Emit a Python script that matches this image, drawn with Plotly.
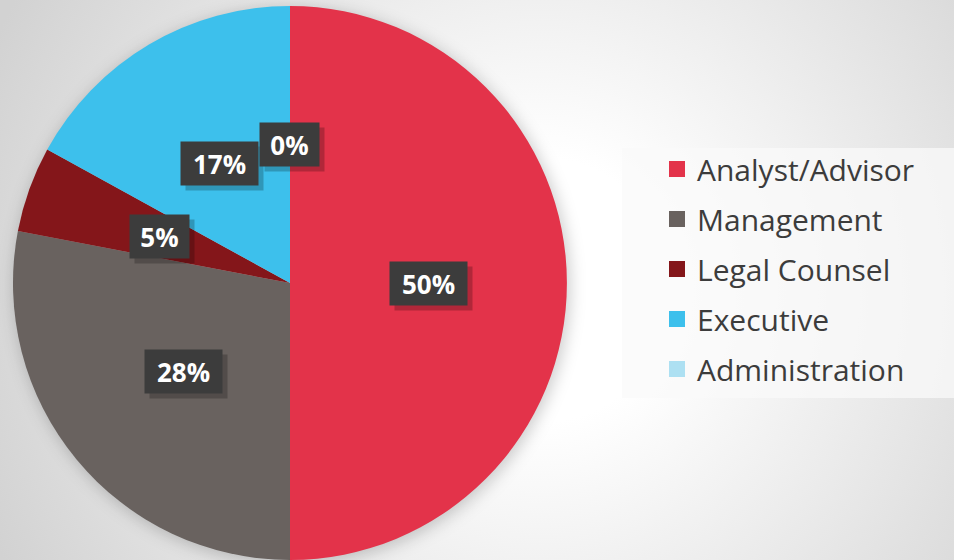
"""Role breakdown pie chart"""
import base64
import numpy as np
import plotly.graph_objects as go

roles = ['Analyst/Advisor', 'Management', 'Legal Counsel', 'Executive', 'Administration']
shares = [50, 28, 5, 17, 0]
colors = ['#E3334A', '#69625F', '#84161A', '#3DC0EC', '#ADE0F2']

W, H = 954, 560
# pie geometry in pixels (domain chosen so the pie lands here)
cx, cy, r = 290, 283, 277

# background: soft radial gradient + blurred shadow under the pie
svg = f'''<svg xmlns="http://www.w3.org/2000/svg" width="{W}" height="{H}" viewBox="0 0 {W} {H}">
<defs>
<radialGradient id="g" cx="540" cy="290" r="600" gradientUnits="userSpaceOnUse">
<stop offset="0" stop-color="#ffffff"/><stop offset="0.22" stop-color="#ffffff"/>
<stop offset="1" stop-color="#d2d2d2"/></radialGradient>
<filter id="b" x="-20%" y="-20%" width="140%" height="140%"><feGaussianBlur stdDeviation="8"/></filter>
</defs>
<rect width="{W}" height="{H}" fill="url(#g)"/>
<circle cx="{cx + 2}" cy="{cy + 3}" r="{r + 1}" fill="#000" fill-opacity="0.2" filter="url(#b)"/>
</svg>'''
bg_src = 'data:image/svg+xml;base64,' + base64.b64encode(svg.encode()).decode()

fig = go.Figure()
fig.add_trace(go.Pie(
    labels=roles, values=shares,
    marker=dict(colors=colors, line=dict(width=0)),
    sort=False, direction='clockwise', rotation=0,
    textinfo='none', showlegend=False,
    domain=dict(x=[0, 2 * cx / W], y=[0, 1 - (cy - r) / H]),
    hovertemplate='%{label}: %{percent}<extra></extra>',
))

# legend entries (bigger squares and spacing than pie legend allows)
for name, c in zip(roles, colors):
    fig.add_trace(go.Scatter(
        x=[None], y=[None], mode='markers', name=name, legendgroup=name,
        marker=dict(symbol='square', size=16, color=c), hoverinfo='skip',
    ))

# percentage tags at half radius along each slice's mid angle
total = sum(shares)
cum = np.cumsum(shares)
for v, end in zip(shares, cum):
    mid = (end - v / 2) / total * 2 * np.pi
    px = cx + 0.5 * r * np.sin(mid)
    py = cy - 0.5 * r * np.cos(mid)
    txt = f'{v:.0f}%'
    w = 77 if len(txt) > 2 else 59
    common = dict(xref='paper', yref='paper', x=px / W, y=1 - py / H,
                  xanchor='center', yanchor='middle', showarrow=False,
                  width=w, height=43, borderpad=0)
    fig.add_annotation(text='', bgcolor='rgba(0,0,0,0.22)', xshift=5, yshift=-5, **common)
    fig.add_annotation(text=f'<b>{txt}</b>', bgcolor='#3c3c3c',
                       font=dict(family='Open Sans', size=26, color='white'), **common)

fig.add_shape(type='rect', xref='paper', yref='paper',
              x0=622 / W, x1=1, y0=1 - 398 / H, y1=1 - 148 / H,
              fillcolor='rgba(250,250,250,0.75)', line=dict(width=0), layer='below')

fig.update_layout(
    width=W, height=H,
    margin=dict(l=0, r=0, t=0, b=0),
    paper_bgcolor='white', plot_bgcolor='rgba(0,0,0,0)',
    xaxis=dict(visible=False), yaxis=dict(visible=False),
    images=[dict(source=bg_src, xref='paper', yref='paper', x=0, y=1,
                 sizex=1, sizey=1, sizing='stretch', layer='below')],
    legend=dict(x=657 / W, y=1 - 143 / H, xanchor='left', yanchor='top',
                bgcolor='rgba(0,0,0,0)', tracegroupgap=8,
                font=dict(family='Open Sans', size=30, color='#3c3c3c')),
)

fig.write_html('out.html', config={'displayModeBar': False},
               post_script="document.body.style.margin='0';")
